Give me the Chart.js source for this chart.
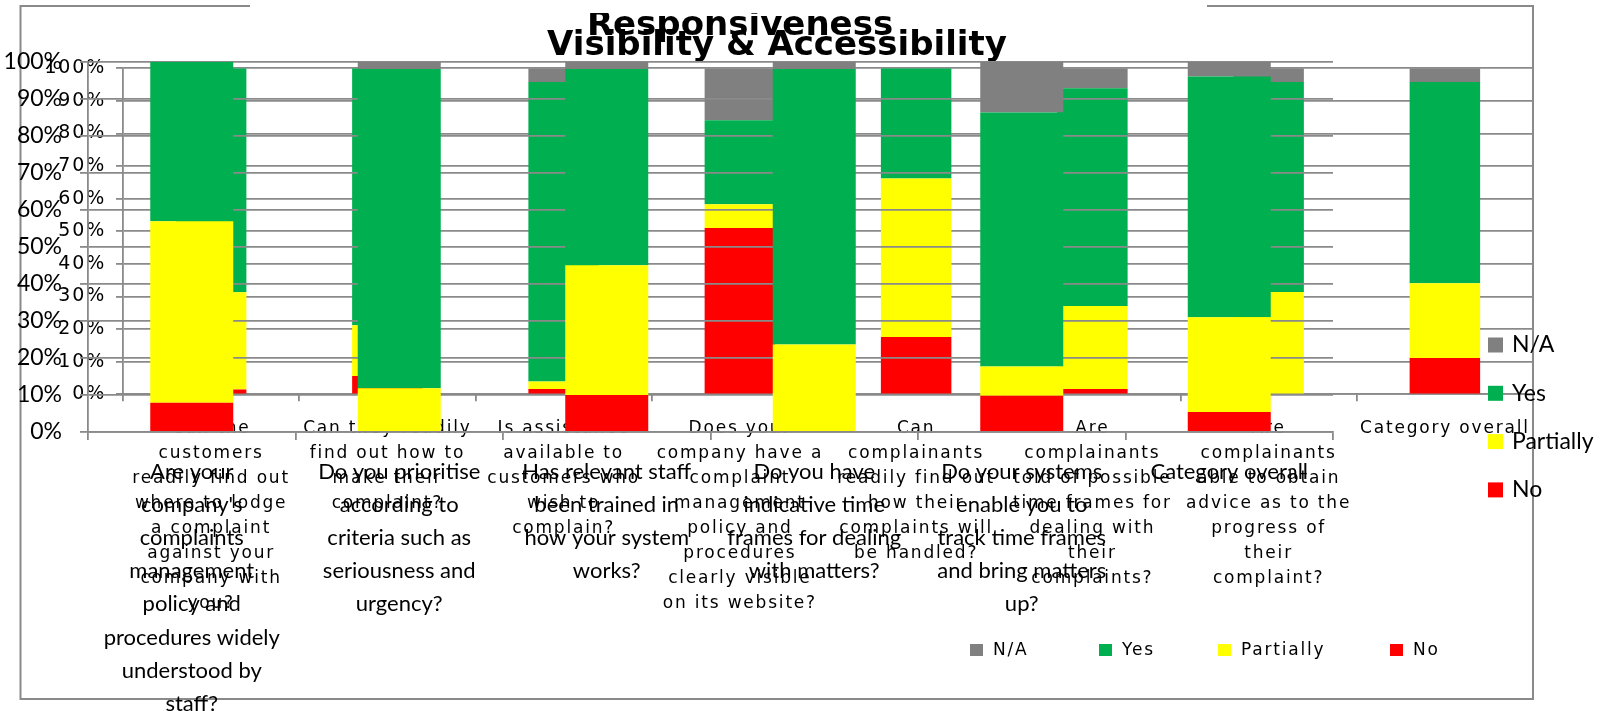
<!DOCTYPE html>
<html>
<head>
<meta charset="utf-8">
<title>Responsiveness / Visibility &amp; Accessibility</title>
<script src="https://cdn.jsdelivr.net/npm/chart.js@4/dist/chart.umd.min.js"></script>
<style>
  html, body { margin: 0; padding: 0; background: #ffffff; }
  #wrap { position: relative; width: 1606px; height: 711px; overflow: hidden; }
  #wrap canvas { position: absolute; left: 0; top: 0; }
</style>
</head>
<body>
<div id="wrap">
  <canvas id="visibility" width="1606" height="711"></canvas>
  <canvas id="responsiveness" width="1606" height="711"></canvas>
</div>
<script>
// ---- series ----
const seriesNames  = ['N/A', 'Yes', 'Partially', 'No'];
const seriesColors = ['#808080', '#00B050', '#FFFF00', '#FF0000'];
const percentTicks = [0, 10, 20, 30, 40, 50, 60, 70, 80, 90, 100];

// ---- Visibility & Accessibility ----
const visibilityQuestions = [
  ['Can the', 'customers', 'readily find out', 'where to lodge', 'a complaint', 'against your', 'company with', 'you?'],
  ['Can they readily', 'find out how to', 'make their', 'complaint?'],
  ['Is assistance', 'available to', 'customers who', 'wish to', 'complain?'],
  ['Does your', 'company have a', 'complaint', 'management', 'policy and', 'procedures', 'clearly visible', 'on its website?'],
  ['Can', 'complainants', 'readily find out', 'how their', 'complaints will', 'be handled?'],
  ['Are', 'complainants', 'told of possible', 'time frames for', 'dealing with', 'their', 'complaints?'],
  ['Are', 'complainants', 'able to obtain', 'advice as to the', 'progress of', 'their', 'complaint?'],
  ['Category overall']
];
const visibilityNo        = [1.5, 5.6, 1.6, 51.0, 17.6, 1.6, 0.0, 11.1];
const visibilityPartially = [29.8, 15.6, 2.3, 7.3, 48.6, 25.5, 31.4, 23.0];
const visibilityYes       = [68.7, 78.8, 91.9, 25.8, 33.8, 66.8, 64.4, 61.7];
const visibilityNA        = [0.0, 0.0, 4.2, 15.9, 0.0, 6.1, 4.2, 4.2];

// ---- Responsiveness ----
const responsivenessQuestions = [
  ['Are your', "company's", 'complaints', 'management', 'policy and', 'procedures widely', 'understood by', 'staff?'],
  ['Do you prioritise', 'according to', 'criteria such as', 'seriousness and', 'urgency?'],
  ['Has relevant staff', 'been trained in', 'how your system', 'works?'],
  ['Do you have', 'indicative time', 'frames for dealing', 'with matters?'],
  ['Do your systems', 'enable you to', 'track time frames', 'and bring matters', 'up?'],
  ['Category overall']
];
const responsivenessNo        = [7.9, 0.0, 10.0, 0.0, 9.8, 5.4];
const responsivenessPartially = [49.0, 11.8, 35.0, 23.6, 7.9, 25.6];
const responsivenessYes       = [43.1, 86.2, 53.0, 74.4, 68.6, 65.0];
const responsivenessNA        = [0.0, 2.0, 2.0, 2.0, 13.7, 4.0];

const W = 1606, H = 711;
const gridGray = '#8a8a8a';
const colorOf = name => seriesColors[seriesNames.indexOf(name)];

function stackedSets(no, partially, yes, na) {
  // bottom to top: No, Partially, Yes, N/A
  return [
    { label: 'No',        data: no,        backgroundColor: colorOf('No') },
    { label: 'Partially', data: partially, backgroundColor: colorOf('Partially') },
    { label: 'Yes',       data: yes,       backgroundColor: colorOf('Yes') },
    { label: 'N/A',       data: na,        backgroundColor: colorOf('N/A') }
  ];
}

function buildOptions(box) {
  return {
    responsive: false,
    animation: false,
    devicePixelRatio: 1,
    events: [],
    layout: { padding: { left: 0, top: box.top, right: W - box.right, bottom: 0 } },
    plugins: { legend: { display: false }, title: { display: false }, tooltip: { enabled: false } },
    datasets: { bar: { categoryPercentage: 1, barPercentage: 0.4, borderWidth: 0 } },
    scales: {
      x: {
        stacked: true,
        offset: true,
        afterFit: s => { s.height = H - box.bottom; },
        grid: { offset: true, drawOnChartArea: false, drawTicks: true, tickLength: box.tick, color: gridGray, lineWidth: 1.8 },
        border: { display: true, color: gridGray, width: 1.8 },
        ticks: {
          autoSkip: false, maxRotation: 0, minRotation: 0,
          padding: box.xPad, color: '#000000',
          font: { family: box.font, size: box.catSize, lineHeight: box.catLine }
        }
      },
      y: {
        stacked: true,
        min: 0, max: 100,
        afterFit: s => { s.width = box.left; },
        afterBuildTicks: s => { s.ticks = percentTicks.map(v => ({ value: v })); },
        grid: { drawTicks: true, tickLength: box.tick, color: gridGray, lineWidth: 1.8 },
        border: { display: true, color: gridGray, width: 1.8 },
        ticks: {
          padding: box.yPad, color: '#000000',
          font: { family: box.font, size: box.ySize },
          callback: v => v + '%'
        }
      }
    }
  };
}

function legendSwatch(ctx, x, y, w, h, color) {
  ctx.fillStyle = color;
  ctx.fillRect(x, y, w, h);
}

// ---- back chart: Visibility & Accessibility ----
const visibilityBox = {
  left: 123, right: 1533, top: 68.3, bottom: 394.3, tick: 7,
  font: '"DejaVu Sans", sans-serif', catSize: 17, catLine: '25px', ySize: 19,
  xPad: 15, yPad: 10
};
const visibilityDeco = {
  id: 'visibilityDeco',
  beforeDraw(chart) {
    const ctx = chart.ctx;
    ctx.letterSpacing = '1.8px';
    // outer frame
    ctx.save();
    ctx.strokeStyle = gridGray;
    ctx.lineWidth = 2;
    ctx.beginPath();
    ctx.moveTo(250, 6); ctx.lineTo(20.5, 6); ctx.lineTo(20.5, 699); ctx.lineTo(1533, 699); ctx.lineTo(1533, 6); ctx.lineTo(1207, 6);
    ctx.stroke();
    ctx.restore();
  },
  afterDraw(chart) {
    const ctx = chart.ctx;
    ctx.save();
    ctx.letterSpacing = '0px';
    ctx.fillStyle = '#000000';
    ctx.font = 'bold 34px "DejaVu Sans", sans-serif';
    ctx.textAlign = 'center';
    ctx.textBaseline = 'alphabetic';
    ctx.fillText('Visibility & Accessibility', 777, 55);
    // legend along the bottom
    ctx.letterSpacing = '1.8px';
    ctx.font = '17px "DejaVu Sans", sans-serif';
    ctx.textAlign = 'left';
    ctx.textBaseline = 'middle';
    const xs = [970, 1099, 1218, 1390];
    seriesNames.forEach((name, i) => {
      legendSwatch(ctx, xs[i], 644, 13, 12, seriesColors[i]);
      ctx.fillStyle = '#000000';
      ctx.fillText(name, xs[i] + 23, 651);
    });
    ctx.restore();
  }
};
new Chart(document.getElementById('visibility'), {
  type: 'bar',
  data: { labels: visibilityQuestions, datasets: stackedSets(visibilityNo, visibilityPartially, visibilityYes, visibilityNA) },
  options: buildOptions(visibilityBox),
  plugins: [visibilityDeco]
});

// ---- front chart: Responsiveness (transparent, drawn over the other) ----
const responsivenessBox = {
  left: 88, right: 1333, top: 61.7, bottom: 432, tick: 8,
  font: 'Lato, "Open Sans", sans-serif', catSize: 22, catLine: '33.2px', ySize: 23,
  xPad: 15, yPad: 18
};
const responsivenessDeco = {
  id: 'responsivenessDeco',
  afterDraw(chart) {
    const ctx = chart.ctx;
    ctx.save();
    ctx.beginPath();
    ctx.rect(0, 13, W, H - 13);
    ctx.clip();
    ctx.fillStyle = '#000000';
    ctx.font = 'bold 34px "DejaVu Sans", sans-serif';
    ctx.textAlign = 'center';
    ctx.textBaseline = 'alphabetic';
    ctx.fillText('Responsiveness', 740, 35);
    ctx.restore();
    // legend on the right
    ctx.save();
    ctx.font = '23px Lato, "Open Sans", sans-serif';
    ctx.textAlign = 'left';
    ctx.textBaseline = 'middle';
    seriesNames.forEach((name, i) => {
      const cy = 345 + i * 48.3;
      legendSwatch(ctx, 1488, cy - 7.5, 15, 15, seriesColors[i]);
      ctx.fillStyle = '#000000';
      ctx.fillText(name, 1512, cy);
    });
    ctx.restore();
  }
};
new Chart(document.getElementById('responsiveness'), {
  type: 'bar',
  data: { labels: responsivenessQuestions, datasets: stackedSets(responsivenessNo, responsivenessPartially, responsivenessYes, responsivenessNA) },
  options: buildOptions(responsivenessBox),
  plugins: [responsivenessDeco]
});
</script>
</body>
</html>
